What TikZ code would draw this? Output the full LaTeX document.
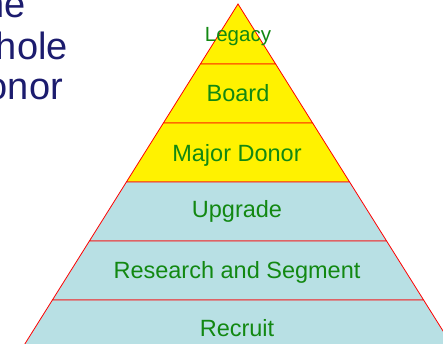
\documentclass[tikz,border=0pt]{standalone}
\usepackage{fontspec}
\setmainfont{Liberation Sans}
\usepackage{xcolor}
\usetikzlibrary{calc}
\definecolor{tierblue}{RGB}{184,224,228}
\definecolor{tiergreen}{RGB}{18,136,18}
\definecolor{sidenavy}{RGB}{28,28,110}
\tikzset{
  tier/.style={ % one band of the pyramid
    draw=red, line width=0.8pt, line join=miter
  },
  tierlabel/.style={ % text inside a band
    anchor=base, inner sep=0pt, text=tiergreen,
    font=\fontsize{23.5}{28}\selectfont
  },
  sidetext/.style={ % the cut-off words on the left
    anchor=base east, inner sep=0pt, text=sidenavy,
    font=\fontsize{38}{40}\selectfont
  }
}
\begin{document}
\begin{tikzpicture}[x=1pt,y=1pt]
    \useasboundingbox (0,0) rectangle (443,344);
    \clip (0,0) rectangle (443,344);

    % bands from the apex down: top edge / bottom edge / fill
    \foreach \yt/\yb/\col in {340/280/yellow, 280/221/yellow, 221/162/yellow,
        162/103/tierblue, 103/44/tierblue, 44/-20/tierblue}{
      \filldraw[tier, fill=\col]
        ({238-0.627*(340-\yt)},\yt) -- ({238+0.627*(340-\yt)},\yt) --
        ({238+0.627*(340-\yb)},\yb) -- ({238-0.627*(340-\yb)},\yb) -- cycle;
    }

    \node[tierlabel, font=\fontsize{20.5}{24}\selectfont] (legacy) at (238,302) {Legacy};
    \node[tierlabel] (board) at (238,242) {Board};
    \node[tierlabel] (major) at (237,182) {Major Donor};
    \node[tierlabel] (upgrade) at (237,126) {Upgrade};
    \node[tierlabel] (research) at (237,65) {Research and Segment};
    \node[tierlabel] (recruit) at (237,7) {Recruit};

    \node[sidetext] (the) at (26,326) {he};
    \node[sidetext] (whole) at (68,284) {hole};
    \node[sidetext] (donor) at (63,244) {onor};
  \end{tikzpicture}
\end{document}
